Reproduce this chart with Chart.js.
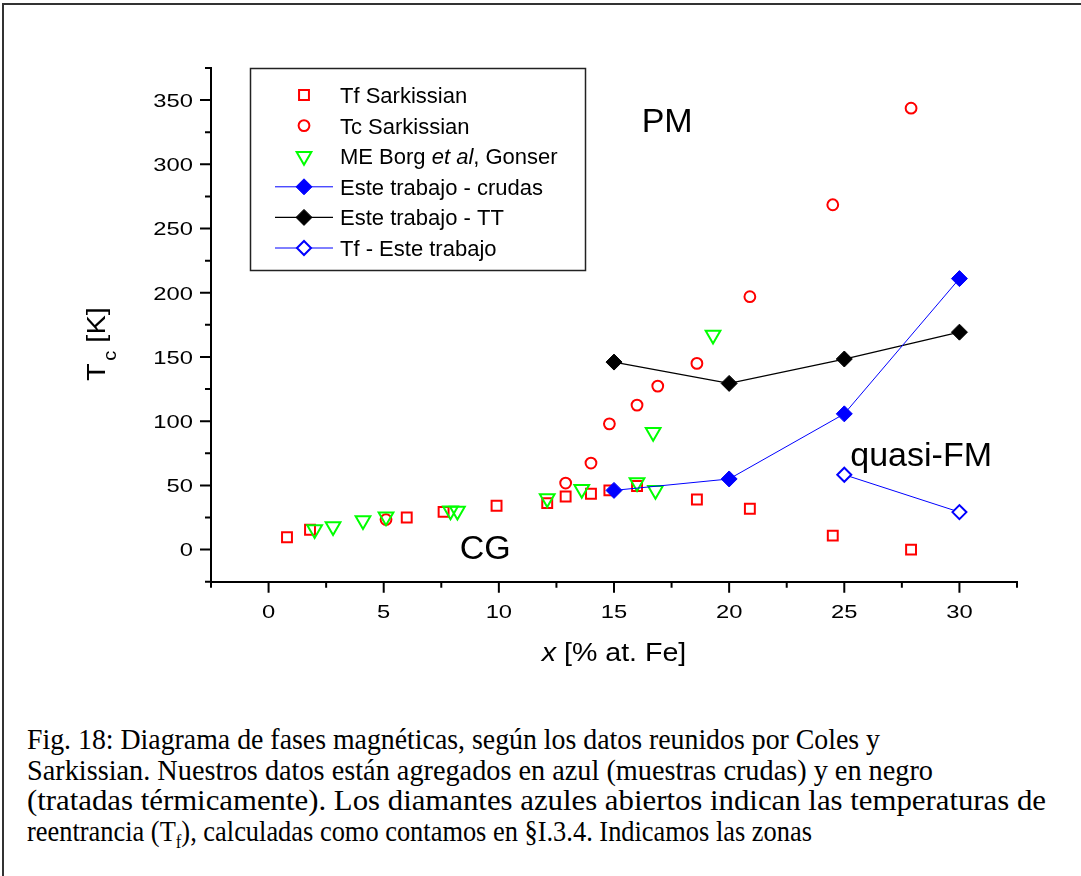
<!DOCTYPE html>
<html>
<head>
<meta charset="utf-8">
<script src="https://cdn.jsdelivr.net/npm/chart.js@4.4.0/dist/chart.umd.min.js"></script>
<style>
  html, body { margin: 0; padding: 0; background: #fff; width: 1081px; height: 876px; overflow: hidden; }
  #frame { position: absolute; left: 2px; top: 3px; width: 1200px; height: 1000px; border-left: 2px solid #333; border-top: 2px solid #333; }
  #wrap { position: absolute; left: 0; top: 0; width: 1081px; height: 700px; }
  #caption { position: absolute; left: 27px; top: 724px; font-family: "Liberation Serif", "Times New Roman", serif;
             font-size: 30px; line-height: 30.5px; white-space: nowrap; color: #000; }
  #caption .linea span { display: inline-block; transform-origin: 0 0; }
  #caption .ultima { margin-top: 26px; }
  #caption sub { font-size: 19px; line-height: 0; }
</style>
</head>
<body>
<div id="frame"></div>
<div id="wrap"><canvas id="diagrama"></canvas></div>
<div id="caption">
  <div class="linea" data-w="853"><span>Fig. 18: Diagrama de fases magnéticas, según los datos reunidos por Coles y</span></div>
  <div class="linea" data-w="906"><span>Sarkissian. Nuestros datos están agregados en azul (muestras crudas) y en negro</span></div>
  <div class="linea" data-w="1019"><span>(tratadas térmicamente). Los diamantes azules abiertos indican las temperaturas de</span></div>
  <div class="linea" data-w="785"><span>reentrancia (T<sub>f</sub>), calculadas como contamos en §I.3.4. Indicamos las zonas</span></div>
  <div class="linea ultima" data-w="900"><span>paramagnética (PM), quasi-ferromagnética (quasi-FM) y vidrio de spin (CG).</span></div>
</div>
<script>
// datos (x en % at. Fe, T en K)
const tfSarkX = [0.8, 1.8, 6.0, 7.6, 9.9, 12.1, 12.9, 14.0, 14.8, 16.0, 18.6, 20.9, 24.5, 27.9];
const tfSarkY = [9.6, 15.4, 25, 29.4, 34.1, 36.2, 41.4, 43.5, 46.1, 49.5, 39, 31.8, 10.9, 0];

const tcSarkX = [5.1, 12.9, 14.0, 14.8, 16.0, 16.9, 18.6, 20.9, 24.5, 27.9];
const tcSarkY = [23.4, 51.8, 67.4, 97.9, 112.5, 127.3, 145, 196.9, 268.5, 343.7];

const borgX = [2.0, 2.8, 4.1, 5.1, 7.9, 8.2, 12.1, 13.6, 16.0, 16.7, 16.8, 19.3];
const borgY = [15.6, 18, 22.7, 25.5, 30.2, 30, 39.8, 47, 52.3, 91.4, 46.3, 167];

const crudasX = [15, 20, 25, 30];
const crudasY = [46.1, 55, 105.7, 211];

const ttX = [15, 20, 25, 30];
const ttY = [146, 129.4, 148.4, 169.3];

const tfEsteX = [25, 30];
const tfEsteY = [58.3, 29.2];

const xTickLabels = [0, 5, 10, 15, 20, 25, 30];
const yTickLabels = [0, 50, 100, 150, 200, 250, 300, 350];

// zonas (posicion en unidades de datos)
const zonaTexto = ['PM', 'CG', 'quasi-FM'];
const zonaX = [16.2, 8.3, 25.26];
const zonaY = [325.5, -7.3, 64.8];

const SANS = '"Liberation Sans", Arial, sans-serif';

// ajusta el ancho de cada linea del pie de figura
document.querySelectorAll('#caption .linea').forEach(el => {
  const sp = el.querySelector('span');
  const w = sp.getBoundingClientRect().width;
  sp.style.transform = 'scaleX(' + (Number(el.dataset.w) / w) + ')';
});

function puntos(xs, ys) {
  return xs.map((x, i) => ({ x: x, y: ys[i] }));
}

function textoAncho(ctx, str, x, y, sx, align) {
  ctx.save();
  ctx.translate(x, y);
  ctx.scale(sx, 1);
  ctx.textAlign = align;
  ctx.fillText(str, 0, 0);
  ctx.restore();
}

const esMayor = (lista, v) => lista.some(l => Math.abs(l - v) < 1e-6);

// ejes con ticks menores, etiquetas y titulos
const ejesPlugin = {
  id: 'ejes',
  afterDraw(chart) {
    const { ctx, chartArea: a } = chart;
    const xs = chart.scales.x, ys = chart.scales.y;
    ctx.save();
    ctx.strokeStyle = '#000';
    ctx.fillStyle = '#000';
    ctx.lineWidth = 2;
    ctx.beginPath();
    xs.ticks.forEach(t => {
      const p = xs.getPixelForValue(t.value);
      const len = esMayor(xTickLabels, t.value) ? 11 : 6;
      ctx.moveTo(p, a.bottom);
      ctx.lineTo(p, a.bottom + len);
    });
    ys.ticks.forEach(t => {
      const p = ys.getPixelForValue(t.value);
      const len = esMayor(yTickLabels, t.value) ? 11 : 6;
      ctx.moveTo(a.left, p);
      ctx.lineTo(a.left - len, p);
    });
    ctx.stroke();

    ctx.font = '19px ' + SANS;
    ctx.textBaseline = 'alphabetic';
    xTickLabels.forEach(v => textoAncho(ctx, String(v), xs.getPixelForValue(v), a.bottom + 36.6, 1.25, 'center'));
    yTickLabels.forEach(v => textoAncho(ctx, String(v), a.left - 18, ys.getPixelForValue(v) + 6.8, 1.25, 'right'));

    // titulo eje x: "x [% at. Fe]"
    const sx = 1.1;
    ctx.font = 'italic 26px ' + SANS;
    const w1 = ctx.measureText('x').width;
    ctx.font = '26px ' + SANS;
    const w2 = ctx.measureText(' [% at. Fe]').width;
    ctx.save();
    ctx.translate((a.left + a.right) / 2 - (w1 + w2) * sx / 2, 661);
    ctx.scale(sx, 1);
    ctx.textAlign = 'left';
    ctx.font = 'italic 26px ' + SANS;
    ctx.fillText('x', 0, 0);
    ctx.font = '26px ' + SANS;
    ctx.fillText(' [% at. Fe]', w1, 0);
    ctx.restore();

    // titulo eje y: "Tc [K]"
    ctx.save();
    ctx.translate(105, 344);
    ctx.rotate(-Math.PI / 2);
    ctx.scale(1.12, 1);
    ctx.textAlign = 'left';
    ctx.font = '26px ' + SANS;
    const wT = ctx.measureText('T').width;
    const wK = ctx.measureText(' [K]').width;
    ctx.font = '18px ' + SANS;
    const wc = ctx.measureText('c').width;
    const x0 = -(wT + wc + 2 + wK) / 2;
    ctx.font = '26px ' + SANS;
    ctx.fillText('T', x0, 0);
    ctx.font = '18px ' + SANS;
    ctx.fillText('c', x0 + wT + 2, 11);
    ctx.font = '26px ' + SANS;
    ctx.fillText(' [K]', x0 + wT + 2 + wc, 0);
    ctx.restore();

    // zonas
    ctx.font = '34px ' + SANS;
    ctx.textAlign = 'left';
    zonaTexto.forEach((s, i) => {
      ctx.fillText(s, xs.getPixelForValue(zonaX[i]), ys.getPixelForValue(zonaY[i]));
    });
    ctx.restore();
  }
};

// leyenda en caja, como en el original
const leyendaPlugin = {
  id: 'leyenda',
  afterDraw(chart) {
    const ctx = chart.ctx;
    ctx.save();
    ctx.lineWidth = 1.5;
    ctx.strokeStyle = '#222';
    ctx.strokeRect(250.5, 68.5, 335, 202);
    chart.data.datasets.forEach((ds, i) => {
      const cy = 95 + i * 30.6;
      if (ds.showLine) {
        ctx.strokeStyle = ds.borderColor;
        ctx.lineWidth = ds.borderWidth;
        ctx.beginPath();
        ctx.moveTo(275, cy);
        ctx.lineTo(333, cy);
        ctx.stroke();
      }
      ctx.fillStyle = ds.pointBackgroundColor;
      ctx.strokeStyle = ds.pointBorderColor;
      ctx.lineWidth = ds.pointBorderWidth;
      Chart.helpers.drawPoint(ctx, {
        pointStyle: ds.pointStyle,
        radius: ds.pointRadius,
        rotation: ds.pointRotation || 0,
        borderWidth: ds.pointBorderWidth
      }, 304, cy);
      let tx = 340;
      ctx.fillStyle = '#000';
      ctx.textAlign = 'left';
      (ds.labelParts || [[ds.label, '']]).forEach(([s, estilo]) => {
        ctx.font = estilo + '22px ' + SANS;
        ctx.fillText(s, tx, cy + 8);
        tx += ctx.measureText(s).width;
      });
    });
    ctx.restore();
  }
};

new Chart(document.getElementById('diagrama'), {
  type: 'scatter',
  data: {
    datasets: [
      {
        label: 'Tf Sarkissian',
        data: puntos(tfSarkX, tfSarkY),
        pointStyle: 'rect', pointRadius: 7, pointBorderWidth: 2,
        pointBorderColor: '#ff0000', pointBackgroundColor: 'rgba(0,0,0,0)',
        borderColor: '#ff0000', order: 4
      },
      {
        label: 'Tc Sarkissian',
        data: puntos(tcSarkX, tcSarkY),
        pointStyle: 'circle', pointRadius: 5.4, pointBorderWidth: 2,
        pointBorderColor: '#ff0000', pointBackgroundColor: 'rgba(0,0,0,0)',
        borderColor: '#ff0000', order: 3
      },
      {
        label: 'ME Borg et al, Gonser',
        labelParts: [['ME Borg ', ''], ['et al', 'italic '], [', Gonser', '']],
        data: puntos(borgX, borgY),
        pointStyle: 'triangle', pointRotation: 180, pointRadius: 8.5, pointBorderWidth: 2,
        pointBorderColor: '#00ff00', pointBackgroundColor: 'rgba(0,0,0,0)',
        borderColor: '#00ff00', order: 2
      },
      {
        label: 'Este trabajo - crudas',
        data: puntos(crudasX, crudasY),
        showLine: true, borderColor: '#0000ff', borderWidth: 1,
        pointStyle: 'rectRot', pointRadius: 8, pointBorderWidth: 1,
        pointBorderColor: '#0000ff', pointBackgroundColor: '#0000ff', order: 1
      },
      {
        label: 'Este trabajo - TT',
        data: puntos(ttX, ttY),
        showLine: true, borderColor: '#000000', borderWidth: 1.3,
        pointStyle: 'rectRot', pointRadius: 8, pointBorderWidth: 1,
        pointBorderColor: '#000000', pointBackgroundColor: '#000000', order: 1
      },
      {
        label: 'Tf - Este trabajo',
        data: puntos(tfEsteX, tfEsteY),
        showLine: true, borderColor: '#0000ff', borderWidth: 1,
        pointStyle: 'rectRot', pointRadius: 7, pointBorderWidth: 2,
        pointBorderColor: '#0000ff', pointBackgroundColor: '#ffffff', order: 1
      }
    ]
  },
  options: {
    responsive: true,
    maintainAspectRatio: false,
    animation: false,
    layout: { padding: { left: 0, top: 68, right: 64, bottom: 0 } },
    plugins: { legend: { display: false }, tooltip: { enabled: false } },
    scales: {
      x: {
        type: 'linear', min: -2.5, max: 32.5,
        ticks: { display: false, stepSize: 2.5 },
        grid: { display: false },
        border: { display: true, color: '#000', width: 2 },
        afterFit: s => { s.height = 118.3; }
      },
      y: {
        type: 'linear', min: -25, max: 375,
        ticks: { display: false, stepSize: 25 },
        grid: { display: false },
        border: { display: true, color: '#000', width: 2 },
        afterFit: s => { s.width = 211; }
      }
    }
  },
  plugins: [ejesPlugin, leyendaPlugin]
});
</script>
</body>
</html>
